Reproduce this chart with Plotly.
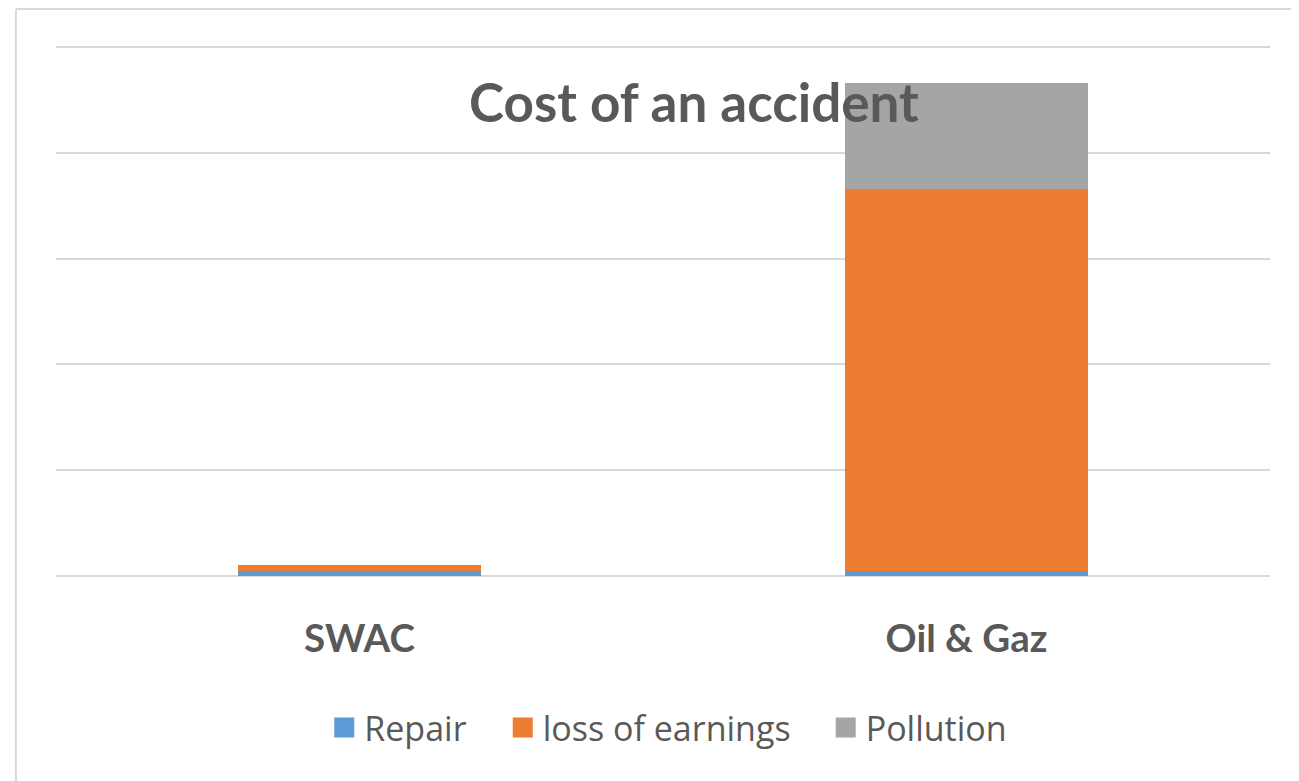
import plotly.graph_objs as go

categories = ['SWAC', 'Oil & Gaz']
repair = [0.05, 0.05]
loss_of_earnings = [0.05, 3.61]
pollution = [0.0, 1.0]

series_names = ['Repair', 'loss of earnings', 'Pollution']
series_colors = ['#5B9BD5', '#ED7D31', '#A5A5A5']
legend_ids = ['legend', 'legend2', 'legend3']
legend_x = [0.221, 0.368, 0.634]   # paper x of each legend entry

text_col = '#595959'
grid_col = '#D9D9D9'

fig = go.Figure()

for name, vals, col, lg in zip(series_names, [repair, loss_of_earnings, pollution], series_colors, legend_ids):
    fig.add_trace(go.Bar(x=categories, y=vals, name=name,
                         marker=dict(color=col, line=dict(width=0)),
                         showlegend=False))
    # legend entry with a bigger square
    fig.add_trace(go.Scatter(x=[None], y=[None], mode='markers', name=name,
                             legend=lg,
                             marker=dict(symbol='square', size=21, color=col,
                                         line=dict(color=col, width=4))))

legends = {}
for lg, lx in zip(legend_ids, legend_x):
    legends[lg] = dict(orientation='h', xref='paper', x=lx, xanchor='left',
                       yref='container', y=0.0686, yanchor='middle',
                       bgcolor='rgba(0,0,0,0)', borderwidth=0,
                       font=dict(family='Open Sans', size=34, color=text_col),
                       itemsizing='trace')

fig.update_layout(
    width=1291,
    height=773,
    barmode='stack',
    bargap=0.6,
    paper_bgcolor='white',
    plot_bgcolor='white',
    font=dict(family='Lato', color=text_col),
    margin=dict(l=48, r=29, t=37, b=205),
    title=dict(text='<b>Cost of an accident</b>',
               font=dict(family='Lato', size=53, color=text_col),
               xref='paper', x=0.5255, xanchor='center',
               yref='container', y=0.877, yanchor='middle'),
    xaxis=dict(showgrid=False, showline=False, ticks='',
               tickfont=dict(family='Lato', size=38.5, color=text_col),
               ticklabelstandoff=36,
               tickprefix='<b>', ticksuffix='</b>'),
    yaxis=dict(range=[0, 5.02], dtick=1, showticklabels=False,
               gridcolor=grid_col, gridwidth=2,
               zeroline=True, zerolinecolor=grid_col, zerolinewidth=2),
    shapes=[
        # chart area border (only left/top are visible in the window)
        dict(type='line', xref='paper', yref='paper', x0=-0.033, x1=1.05,
             y0=1.0678, y1=1.0678, line=dict(color=grid_col, width=2)),
        dict(type='line', xref='paper', yref='paper', x0=-0.033, x1=-0.033,
             y0=-0.4, y1=1.0678, line=dict(color=grid_col, width=2)),
    ],
    **legends,
)

fig.write_html("out.html")
